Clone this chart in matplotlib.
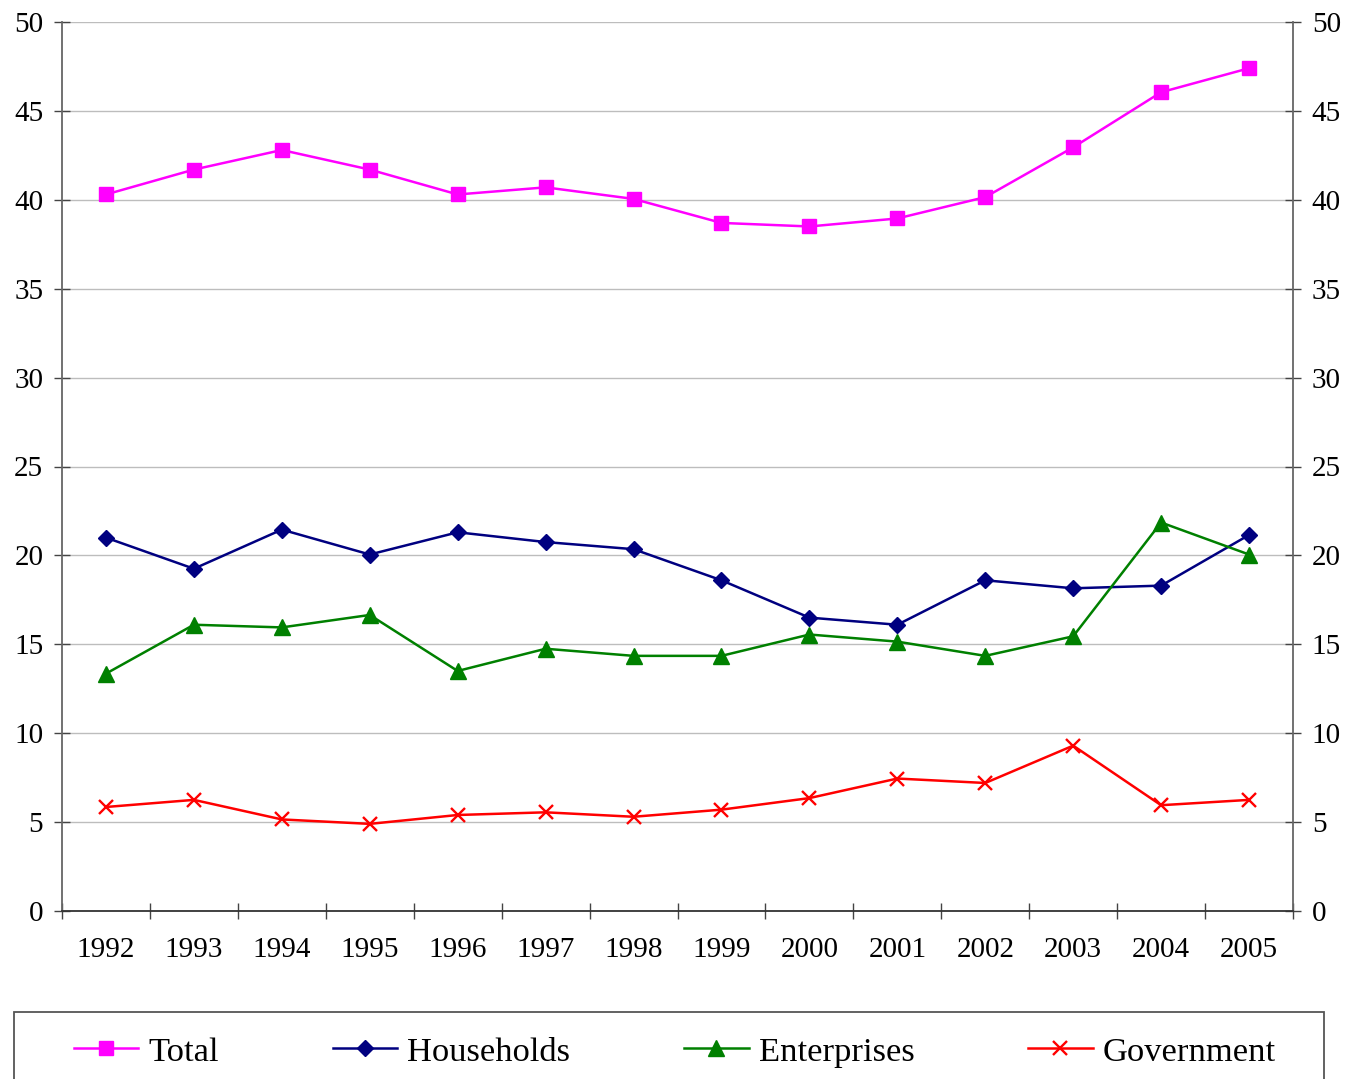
import numpy as np
import matplotlib.pyplot as plt
from matplotlib.patches import Rectangle

plt.rcParams['font.family'] = ['Liberation Serif', 'DejaVu Serif']

years = ['1992', '1993', '1994', '1995', '1996', '1997', '1998',
         '1999', '2000', '2001', '2002', '2003', '2004', '2005']
total = [40.3, 41.7, 42.8, 41.7, 40.3, 40.7, 40.05, 38.7, 38.5, 38.95, 40.15, 42.95, 46.05, 47.4]
households = [21.0, 19.25, 21.45, 20.05, 21.3, 20.75, 20.35, 18.6, 16.5, 16.1, 18.6, 18.15, 18.3, 21.15]
enterprises = [13.35, 16.1, 15.95, 16.65, 13.5, 14.75, 14.35, 14.35, 15.55, 15.15, 14.35, 15.45, 21.85, 20.05]
government = [5.85, 6.25, 5.15, 4.9, 5.4, 5.55, 5.3, 5.7, 6.35, 7.45, 7.2, 9.3, 5.95, 6.25]

fig = plt.figure(figsize=(13.45, 10.79), dpi=100)
ax = fig.add_axes([62 / 1345, 1 - 911 / 1079, 1231 / 1345, 889 / 1079])

x = np.arange(len(years))
ax.plot(x, total, color='#ff00ff', lw=1.8, marker='s', ms=10, label='Total', zorder=3)
ax.plot(x, households, color='#000080', lw=1.8, marker='D', ms=8.5, label='Households', zorder=3)
ax.plot(x, enterprises, color='#008000', lw=1.8, marker='^', ms=11.5, label='Enterprises', zorder=3)
ax.plot(x, government, color='#ff0000', lw=1.8, marker='x', ms=10.5, mew=1.7, label='Government', zorder=3)

ax.set_xlim(-0.5, len(years) - 0.5)
ax.set_ylim(0, 50)
ax.set_yticks(np.arange(0, 51, 5))
ax.yaxis.grid(True, color='#bdbdbd', lw=1)
ax.set_axisbelow(True)

# year labels in the middle, tick marks on the category boundaries
ax.set_xticks(x)
ax.set_xticklabels(years)
ax.set_xticks(np.arange(-0.5, len(years)), minor=True)
ax.tick_params(axis='x', which='major', length=0, pad=19, labelsize=21)
ax.tick_params(axis='x', which='minor', direction='inout', length=11, width=1, color='#444444')
ax.tick_params(axis='y', direction='inout', length=11, width=1, color='#444444',
               left=True, right=True, labelleft=True, labelright=True, labelsize=21, pad=8)

ax.spines['top'].set_visible(False)
ax.spines['bottom'].set_color('#333333')
ax.spines['left'].set_color('#666666')
ax.spines['right'].set_color('#666666')
for s in ['bottom', 'left', 'right']:
    ax.spines[s].set_linewidth(1.3)

# legend box runs off the bottom edge
fig.patches.append(Rectangle((14 / 1345, -0.05), 1310 / 1345, 0.05 + 67 / 1079,
                             transform=fig.transFigure, fill=False,
                             edgecolor='#555555', lw=1.3))
fig.legend(loc='center left', bbox_to_anchor=(60 / 1345, 1 - 1052 / 1079),
           ncol=4, frameon=False, fontsize=24.8, handlelength=1.87,
           handletextpad=0.3, columnspacing=3.3, borderaxespad=0)

fig.savefig('out.png', dpi=100)
